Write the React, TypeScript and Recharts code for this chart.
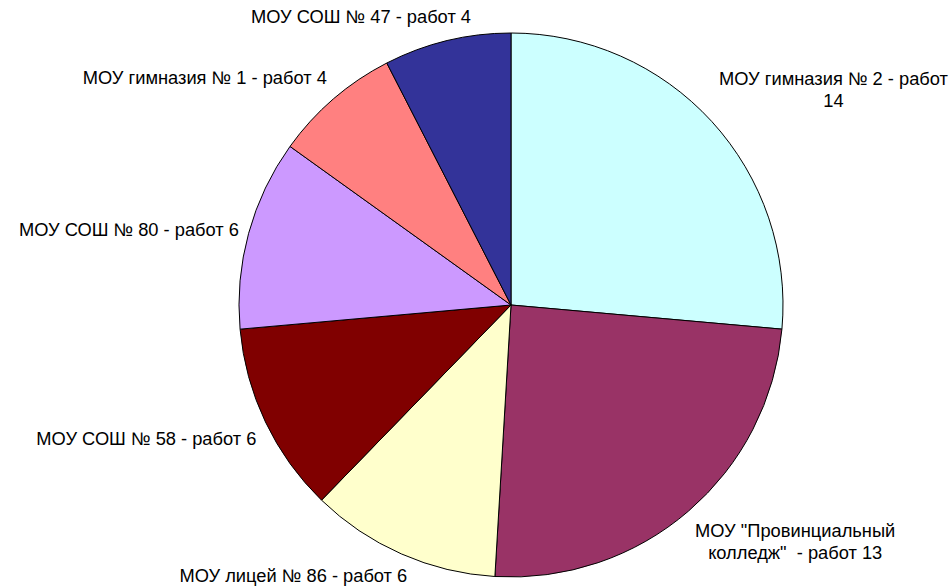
import { PieChart, Pie, Cell } from 'recharts';

const names = [
  'МОУ гимназия № 2',
  'МОУ "Провинциальный колледж"',
  'МОУ лицей № 86',
  'МОУ СОШ № 58',
  'МОУ СОШ № 80',
  'МОУ гимназия № 1',
  'МОУ СОШ № 47',
];
const values = [14, 13, 6, 6, 6, 4, 4];
const labels = [
  'МОУ гимназия № 2 - работ\n14',
  'МОУ "Провинциальный\nколледж"  - работ 13',
  'МОУ лицей № 86 - работ 6',
  'МОУ СОШ № 58 - работ 6',
  'МОУ СОШ № 80 - работ 6',
  'МОУ гимназия № 1 - работ 4',
  'МОУ СОШ № 47 - работ 4',
];
const colors = ['#CCFFFF', '#993366', '#FFFFCC', '#800000', '#CC99FF', '#FF8080', '#333399'];

const data = names.map((name, i) => ({ name, value: values[i], label: labels[i] }));

const FONT_SIZE = 18.3;
const LINE_H = 22;
const FONT = '"Liberation Sans", Arial, sans-serif';
const RADIAN = Math.PI / 180;

let ctx: CanvasRenderingContext2D | null = null;
function textWidth(s: string) {
  if (!ctx) ctx = document.createElement('canvas').getContext('2d');
  if (!ctx) return s.length * FONT_SIZE * 0.5;
  ctx.font = `${FONT_SIZE}px ${FONT}`;
  return ctx.measureText(s).width;
}

const clamp = (v: number, a: number, b: number) => Math.max(a, Math.min(b, v));

function renderLabel(props: any) {
  const { cx, cy, midAngle, outerRadius, index } = props;
  const lines = labels[index].split('\n');
  const w = Math.max(...lines.map(textWidth));
  const h = lines.length * LINE_H;
  const cos = Math.cos(-midAngle * RADIAN);
  const sin = Math.sin(-midAngle * RADIAN);
  const px = cx + (outerRadius + 10) * cos;
  const py = cy + (outerRadius + 10) * sin;
  const fx = clamp(0.55 + 0.9 * Math.abs(cos), 0, 1);
  const fy = clamp((Math.abs(sin) - 0.27) / 0.15, 0, 1);
  const x = px + Math.sign(cos) * (w / 2) * fx;
  const y = py + Math.sign(sin) * (h / 2 + 2) * fy;
  const top = y - h / 2;
  return (
    <text x={x} y={top} textAnchor="middle" fill="#000" fontSize={FONT_SIZE} fontFamily={FONT}>
      {lines.map((l, i) => (
        <tspan key={i} x={x} y={top + LINE_H * i + LINE_H * 0.75} style={{ whiteSpace: 'pre' }}>
          {l}
        </tspan>
      ))}
    </text>
  );
}

export default function App() {
  return (
    <div style={{ position: 'absolute', left: 0, top: 0, width: 950, height: 588, background: '#fff' }}>
      <PieChart width={950} height={588} margin={{ top: 0, right: 0, bottom: 0, left: 0 }}>
        <Pie
          data={data}
          dataKey="value"
          nameKey="name"
          cx={511}
          cy={305}
          outerRadius={272}
          startAngle={90}
          endAngle={-270}
          label={renderLabel}
          labelLine={false}
          isAnimationActive={false}
        >
          {data.map((d, i) => (
            <Cell key={d.name} fill={colors[i]} stroke="#000" strokeWidth={1} />
          ))}
        </Pie>
      </PieChart>
    </div>
  );
}
